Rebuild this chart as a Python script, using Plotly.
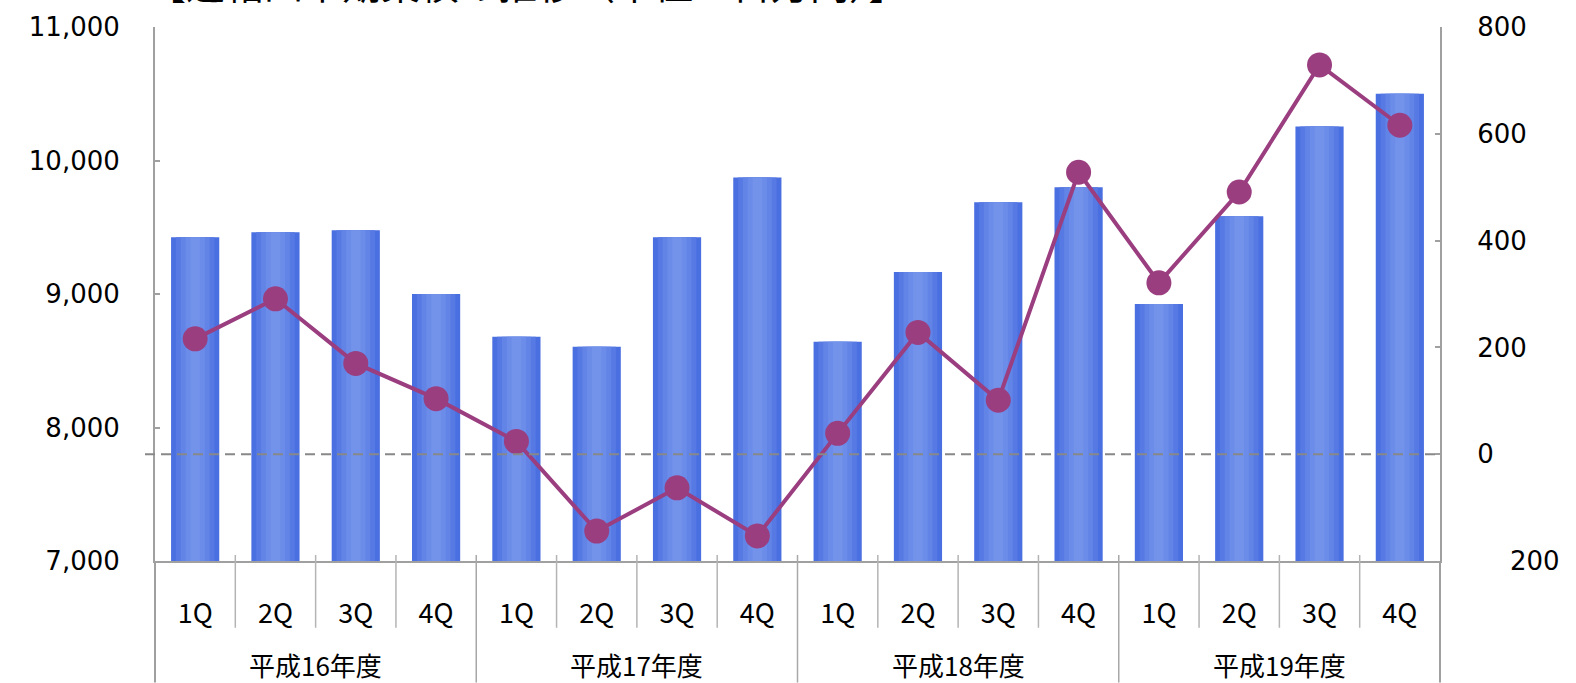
import plotly.graph_objects as go

quarters = ["1Q", "2Q", "3Q", "4Q"] * 4
years = ["平成16年度", "平成17年度", "平成18年度", "平成19年度"]
sales = [9425, 9463, 9478, 9000, 8679, 8604, 9425, 9873,
         8642, 9164, 9687, 9799, 8925, 9582, 10254, 10500]
profit = [216, 291, 170, 104, 24, -144, -63, -153,
          39, 228, 101, 528, 321, 491, 729, 616]
title_text = "【連結四半期業績の推移（単位：百万円）】"

n = len(sales)
xs = list(range(n))

W, H = 1576, 683
L, R, T, B = 155, 136, 25, 122
pw, ph = W - L - R, H - T - B

def py(px):
    return (H - B - px) / ph

def pxp(px):
    return (px - L) / pw

AX = "#a0a0a0"
TF = "DejaVu Sans"
CJK = "Noto Sans CJK JP"

fig = go.Figure()
for w, c in [(0.6, "#4a6fe0"), (0.48, "#5679e3"), (0.36, "#6284e6"), (0.24, "#6b8ce8"), (0.12, "#7392ea")]:
    fig.add_trace(go.Bar(x=xs, y=sales, width=w, marker=dict(color=c, line=dict(width=0)),
                         yaxis="y", showlegend=False))
fig.add_trace(go.Scatter(x=xs, y=profit, yaxis="y2", mode="lines+markers",
                         line=dict(color="#9a3e80", width=4),
                         marker=dict(color="#9a3e80", size=25),
                         showlegend=False, cliponaxis=False))

shapes = []
shapes.append(dict(type="line", xref="paper", x0=pxp(145), x1=1, yref="y2", y0=0, y1=0,
                   line=dict(color="#888888", width=2, dash="10px,6px"), layer="above"))
for i in range(n - 1):
    b = i + 0.5
    yr = (i + 1) % 4 == 0
    shapes.append(dict(type="line", xref="x", x0=b, x1=b, yref="paper",
                       y0=py(555), y1=py(H) if yr else py(628),
                       line=dict(color="#b4b4b4" if not yr else "#a8a8a8", width=1.5)))
for xp in (0, 1):
    shapes.append(dict(type="line", xref="paper", x0=xp, x1=xp, yref="paper",
                       y0=0, y1=py(H), line=dict(color=AX, width=2)))

annotations = []
for k, yname in enumerate(years):
    annotations.append(dict(text=yname, x=4 * k + 1.5, xref="x", y=py(665), yref="paper",
                            showarrow=False, xanchor="center", yanchor="middle",
                            font=dict(family=CJK, size=26, color="#000000")))
annotations.append(dict(text="200", xref="paper", x=pxp(1508), xanchor="left",
                        yref="y2", y=-200, yanchor="middle", showarrow=False,
                        font=dict(family=TF, size=26, color="#000000")))
annotations.append(dict(text=title_text, xref="paper", x=pxp(145), xanchor="left",
                        yref="paper", y=py(-20), yanchor="middle", showarrow=False,
                        font=dict(family=CJK, size=39, color="#000000")))

fig.update_layout(
    width=W, height=H, margin=dict(l=L, r=R, t=T, b=B),
    paper_bgcolor="white", plot_bgcolor="white",
    barmode="overlay", showlegend=False,
    shapes=shapes, annotations=annotations,
    xaxis=dict(range=[-0.5, n - 0.5], tickmode="array", tickvals=xs, ticktext=quarters,
               showgrid=False, zeroline=False, showline=True, linecolor=AX, linewidth=2,
               ticks="", tickfont=dict(family=CJK, size=27, color="#000000"),
               ticklabelstandoff=28),
    yaxis=dict(range=[7000, 11000], dtick=1000, tickformat=",", showgrid=False,
               zeroline=False, showline=True, linecolor=AX, linewidth=2,
               ticks="inside", ticklen=5, tickcolor=AX, tickwidth=1.5,
               tickfont=dict(family=TF, size=26, color="#000000"), ticklabelstandoff=28),
    yaxis2=dict(range=[-200, 800], overlaying="y", side="right", tickmode="array",
                tickvals=[0, 200, 400, 600, 800], showgrid=False, zeroline=False,
                showline=True, linecolor=AX, linewidth=2,
                ticks="inside", ticklen=5, tickcolor=AX, tickwidth=1.5,
                tickfont=dict(family=TF, size=26, color="#000000"), ticklabelstandoff=30),
)

fig.write_html("out.html")
